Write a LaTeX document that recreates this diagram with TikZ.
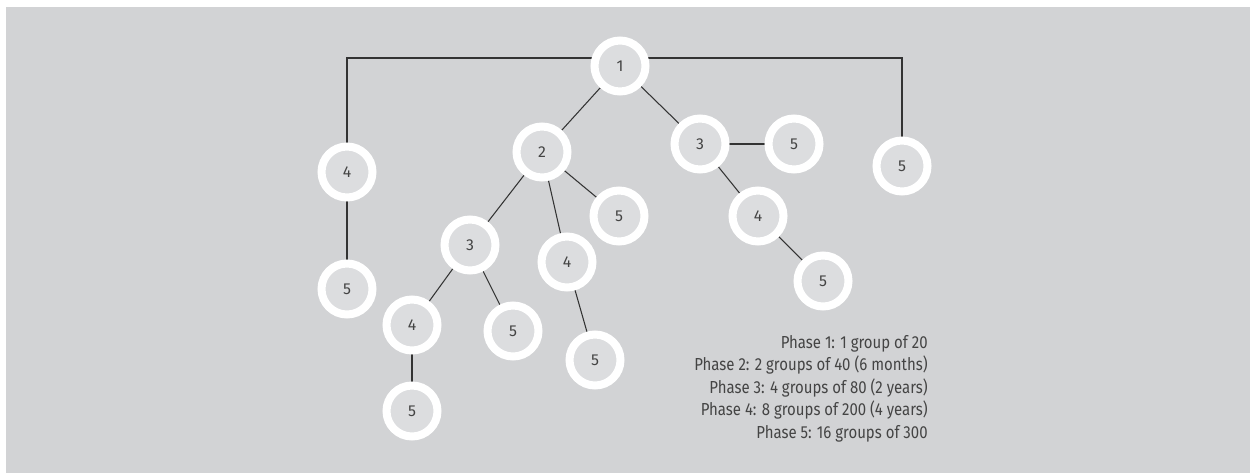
\documentclass[tikz,border=0pt]{standalone}
\usepackage{fontspec}
\setmainfont{Fira Sans}
\newfontfamily\phasefont[FakeStretch=0.86]{Fira Sans}
\usetikzlibrary{backgrounds}
\definecolor{bgc}{HTML}{D2D3D5}
\definecolor{innerc}{HTML}{DCDDDF}
\definecolor{linec}{HTML}{333333}
\definecolor{textc}{HTML}{444444}
\tikzset{
  grp/.style={circle, draw=white, line width=0.16cm, fill=innerc, minimum size=1.02cm, inner sep=0pt, font=\fontsize{9}{10}\selectfont, text=textc},
  link/.style={draw=linec, line width=0.6pt},
  phase/.style={anchor=base east, inner sep=0pt, font=\phasefont\fontsize{9.9}{12}\selectfont, text=textc}
}
\begin{document}
\begin{tikzpicture}[x=0.02cm, y=-0.02cm]
\useasboundingbox (0,0) rectangle (1250,473);
\node[grp] (n1) at (620,66) {1};
\node[grp] (n2) at (542,152) {2};
\node[grp] (n3r) at (700,144) {3};
\node[grp] (n5a) at (794,144) {5};
\node[grp] (n5b) at (902,166) {5};
\node[grp] (n4a) at (347,172) {4};
\node[grp] (n5c) at (347,289) {5};
\node[grp] (n5d) at (619,216) {5};
\node[grp] (n3l) at (470,245) {3};
\node[grp] (n4m) at (567,262) {4};
\node[grp] (n4r) at (758,216) {4};
\node[grp] (n5e) at (823,281) {5};
\node[grp] (n4l) at (412,325) {4};
\node[grp] (n5f) at (513,331) {5};
\node[grp] (n5g) at (595,360) {5};
\node[grp] (n5h) at (412,411) {5};
\coordinate (top) at (620,58);
\begin{scope}[on background layer]
\fill[white] (0,0) rectangle (1250,473);
\fill[bgc] (6,7) rectangle (1250,473);
\draw[link] (n4a.center) |- (top) -| (n5b.center);
\draw[link] (n1.center) -- (n2.center);
\draw[link] (n1.center) -- (n3r.center);
\draw[link] (n3r.center) -- (n5a.center);
\draw[link] (n3r.center) -- (n4r.center);
\draw[link] (n4r.center) -- (n5e.center);
\draw[link] (n4a.center) -- (n5c.center);
\draw[link] (n2.center) -- (n3l.center);
\draw[link] (n2.center) -- (n4m.center);
\draw[link] (n2.center) -- (n5d.center);
\draw[link] (n3l.center) -- (n4l.center);
\draw[link] (n3l.center) -- (n5f.center);
\draw[link] (n4m.center) -- (n5g.center);
\draw[link] (n4l.center) -- (n5h.center);
\end{scope}
\node[phase] (t1) at (928,348) {Phase 1: 1 group of 20};
\node[phase] (t2) at (928,370.5) {Phase 2: 2 groups of 40 (6 months)};
\node[phase] (t3) at (928,393) {Phase 3: 4 groups of 80 (2 years)};
\node[phase] (t4) at (928,415.5) {Phase 4: 8 groups of 200 (4 years)};
\node[phase] (t5) at (928,438) {Phase 5: 16 groups of 300};
\end{tikzpicture}
\end{document}
